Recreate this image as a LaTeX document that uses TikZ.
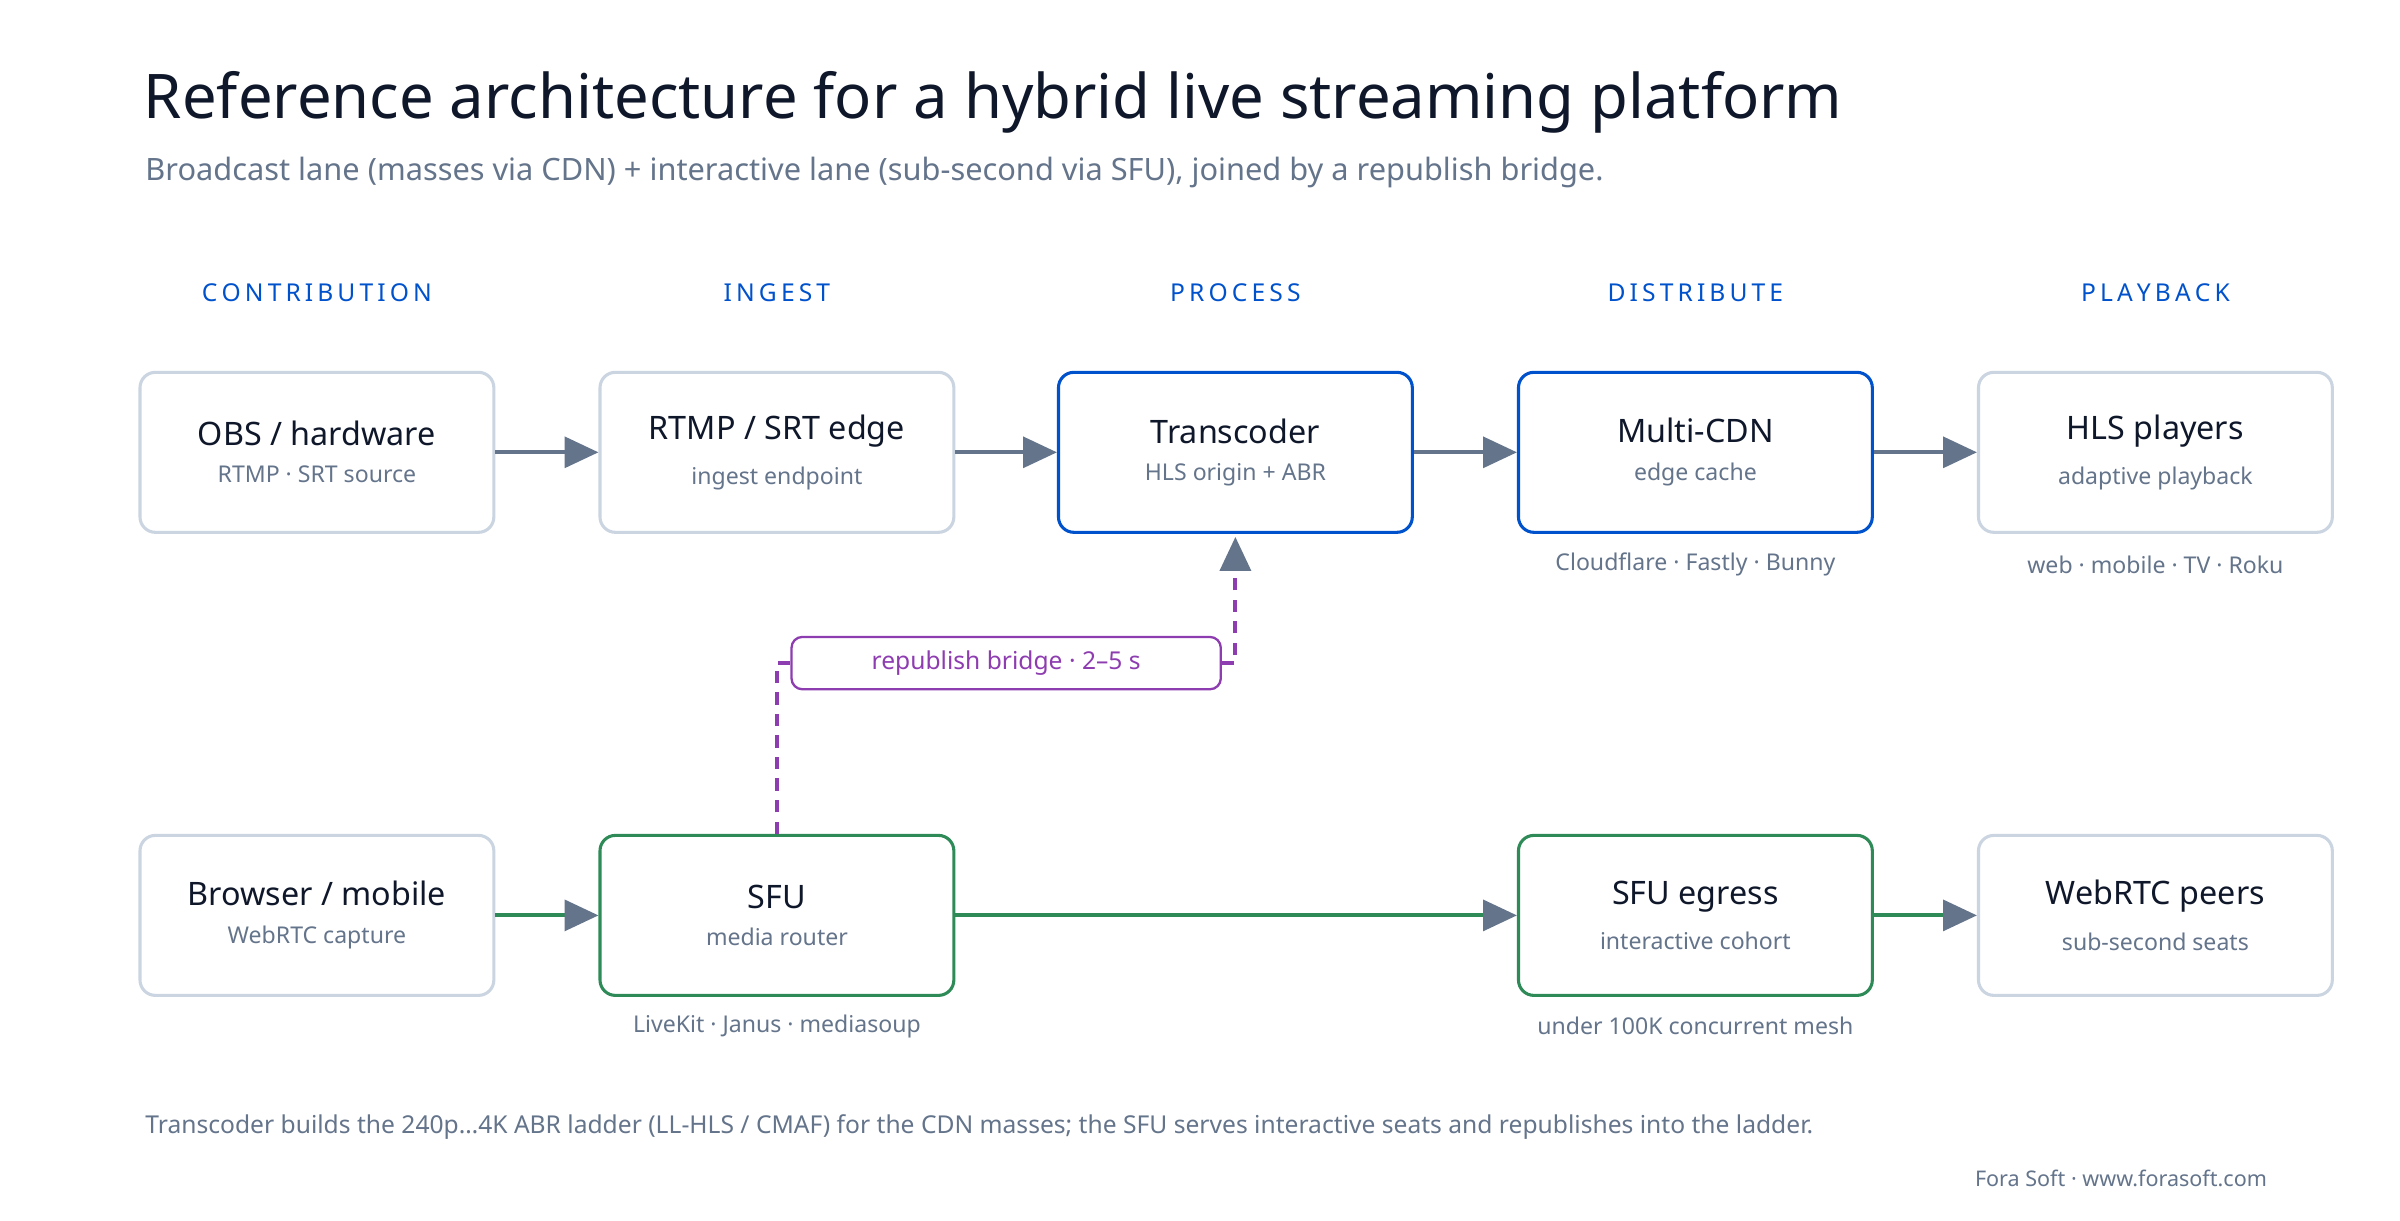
\documentclass[tikz,border=0pt]{standalone}
\usepackage{fontspec}
\setmainfont{Noto Sans}
\usetikzlibrary{arrows.meta,positioning}
\definecolor{ink}{HTML}{0F172A}
\definecolor{slate}{HTML}{64748B}
\definecolor{edge}{HTML}{CBD5E1}
\definecolor{cblue}{HTML}{0052CC}
\definecolor{cgreen}{HTML}{2E8B57}
\definecolor{cpurple}{HTML}{8E3DB0}
\tikzset{
  box/.style={draw=edge, line width=2pt, rounded corners=10pt, minimum width=230pt, minimum height=104pt, fill=white},
  hot/.style={box, draw=cblue},
  live/.style={box, draw=cgreen},
  head/.style={font=\bfseries\fontsize{16}{18}\selectfont, text=cblue},
  note/.style={font=\fontsize{15}{18}\selectfont, text=slate},
  flow/.style={draw=slate, line width=2.5pt, -{Triangle[length=22pt,width=20pt]}},
  gflow/.style={flow, draw=cgreen, -{Triangle[length=22pt,width=20pt,color=slate]}},
}
\newcommand{\boxtext}[2]{\shortstack{{\bfseries\fontsize{21}{24}\selectfont\color{ink}#1}\\[10pt]{\fontsize{15}{18}\selectfont\color{slate}#2}}}
\begin{document}
\begin{tikzpicture}[x=1pt,y=-1pt]
    \useasboundingbox[fill=white] (0,0) rectangle (1560,793);
    % titles
    \node[anchor=base west, font=\bfseries\fontsize{40}{44}\selectfont, text=ink] (title) at (90,77) {Reference architecture for a hybrid live streaming platform};
    \node[anchor=base west, font=\fontsize{20}{24}\selectfont, text=slate] (sub) at (91,117) {Broadcast lane (masses via CDN) + interactive lane (sub-second via SFU), joined by a republish bridge.};
    % column heads
    \node[head] (h1) at (206,190) {C\,O\,N\,T\,R\,I\,B\,U\,T\,I\,O\,N};
    \node[head] (h2) at (505,190) {I\,N\,G\,E\,S\,T};
    \node[head] (h3) at (803,190) {P\,R\,O\,C\,E\,S\,S};
    \node[head] (h4) at (1102,190) {D\,I\,S\,T\,R\,I\,B\,U\,T\,E};
    \node[head] (h5) at (1401,190) {P\,L\,A\,Y\,B\,A\,C\,K};
    % broadcast lane
    \node[box] (obs) at (206,294) {\boxtext{OBS / hardware}{RTMP · SRT source}};
    \node[box] (rtmp) at (505,294) {\boxtext{RTMP / SRT edge}{ingest endpoint}};
    \node[hot] (trans) at (803,294) {\boxtext{Transcoder}{HLS origin + ABR}};
    \node[hot] (cdn) at (1102,294) {\boxtext{Multi-CDN}{edge cache}};
    \node[box] (hls) at (1401,294) {\boxtext{HLS players}{adaptive playback}};
    % interactive lane
    \node[box] (cap) at (206,595) {\boxtext{Browser / mobile}{WebRTC capture}};
    \node[live] (sfu) at (505,595) {\boxtext{SFU}{media router}};
    \node[live] (egr) at (1102,595) {\boxtext{SFU egress}{interactive cohort}};
    \node[box] (peers) at (1401,595) {\boxtext{WebRTC peers}{sub-second seats}};
    % notes
    \node[note] (n1) at (1102,367) {Cloudflare · Fastly · Bunny};
    \node[note] (n2) at (1401,367) {web · mobile · TV · Roku};
    \node[note] (n3) at (505,667) {LiveKit · Janus · mediasoup};
    \node[note] (n4) at (1102,667) {under 100K concurrent mesh};
    % arrows
    \draw[flow] (obs) -- (rtmp);
    \draw[flow] (rtmp) -- (trans);
    \draw[flow] (trans) -- (cdn);
    \draw[flow] (cdn) -- (hls);
    \draw[gflow] (cap) -- (sfu);
    \draw[gflow] (sfu) -- (egr);
    \draw[gflow] (egr) -- (peers);
    % bridge
    \node[draw=cpurple, line width=1.5pt, rounded corners=7pt, minimum width=279pt, minimum height=34pt, fill=white, text=cpurple, font=\bfseries\fontsize{16}{18}\selectfont] (bridge) at (654,431) {republish bridge · 2–5 s};
    \coordinate (b1) at (505,431);
    \coordinate (b2) at (803,431);
    \draw[draw=cpurple, line width=2.5pt, dash pattern=on 8pt off 6pt] (sfu.north) -- (b1) -- (bridge.west);
    \draw[draw=cpurple, line width=2.5pt, dash pattern=on 8pt off 6pt, -{Triangle[length=22pt,width=20pt,color=slate]}] (bridge.east) -- (b2) -- ([yshift=-2pt]trans.south);
    % footer
    \node[anchor=base west, note, font=\fontsize{16}{18}\selectfont] (foot) at (91,737) {Transcoder builds the 240p…4K ABR ladder (LL-HLS / CMAF) for the CDN masses; the SFU serves interactive seats and republishes into the ladder.};
    \node[anchor=base east, note, font=\fontsize{14}{16}\selectfont] (brand) at (1477,771) {Fora Soft · www.forasoft.com};
\end{tikzpicture}
\end{document}
